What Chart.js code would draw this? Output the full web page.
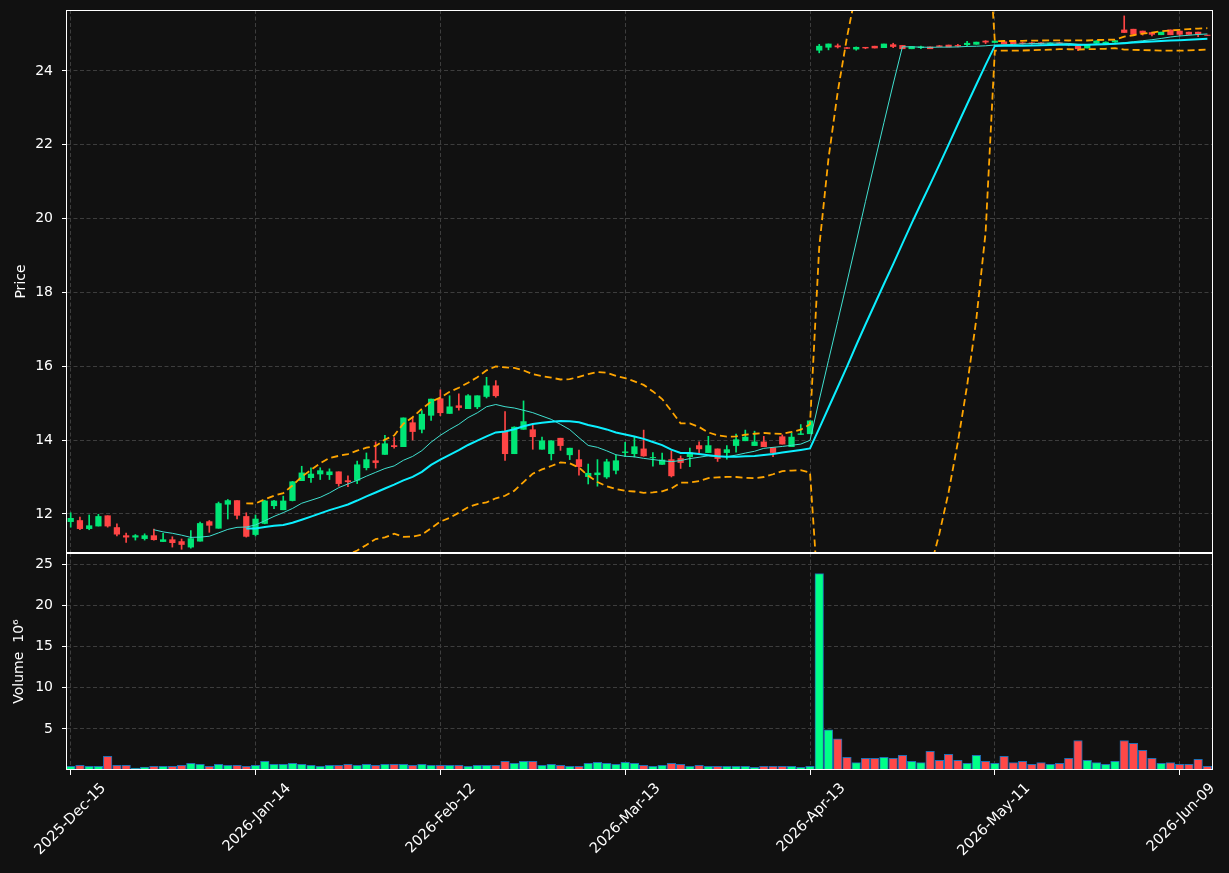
<!DOCTYPE html>
<html>
<head>
<meta charset="utf-8">
<script src="https://cdn.jsdelivr.net/npm/chart.js@4.4.1/dist/chart.umd.min.js"></script>
<style>
  html, body { margin: 0; padding: 0; background: #111111; }
  #wrap { position: relative; width: 1229px; height: 873px; }
  #priceCanvas { position: absolute; left: 0; top: 0; }
  #volCanvas { position: absolute; left: 0; top: 553px; }
</style>
</head>
<body>
<div id="wrap">
  <canvas id="priceCanvas" width="1229" height="553"></canvas>
  <canvas id="volCanvas" width="1229" height="320"></canvas>
</div>
<script>
// one entry per trading day, starting 2025-12-15 (index 0)
const opens = [
  11.79, 11.82, 11.60, 11.67, 11.95, 11.63, 11.41, 11.37, 11.33, 11.41,
  11.25, 11.30, 11.25, 11.10, 11.26, 11.79, 11.61, 12.26, 12.36, 11.93,
  11.44, 11.74, 12.22, 12.11, 12.36, 12.90, 12.98, 13.08, 13.06, 13.14,
  12.90, 12.91, 13.25, 13.44, 13.61, 13.85, 13.82, 14.47, 14.29, 14.67,
  15.12, 14.72, 14.93, 14.85, 14.90, 15.18, 15.47, 14.23, 13.63, 14.29,
  14.28, 13.75, 13.63, 14.05, 13.60, 13.47, 13.01, 13.06, 13.00, 13.18,
  13.66, 13.63, 13.76, 13.52, 13.34, 13.47, 13.50, 13.55, 13.85, 13.66,
  13.76, 13.66, 13.85, 13.98, 13.85, 13.95, 13.79, 14.09, 13.82, 14.15,
  14.17, 24.56, 24.64, 24.68, 24.63, 24.59, 24.64, 24.67, 24.63, 24.71,
  24.69, 24.60, 24.63, 24.65, 24.68, 24.70, 24.69, 24.71, 24.72, 24.81,
  24.77, 24.79, 24.79, 24.76, 24.76, 24.76, 24.72, 24.76, 24.73, 24.68,
  24.62, 24.75, 24.74, 24.78, 25.11, 25.13, 25.08, 25.04, 24.98, 25.11,
  25.08, 25.05, 25.05, 24.97
];
const highs = [
  12.03, 11.91, 11.97, 11.99, 11.95, 11.73, 11.48, 11.44, 11.46, 11.59,
  11.47, 11.38, 11.32, 11.55, 11.78, 11.82, 12.32, 12.39, 12.36, 12.03,
  11.97, 12.37, 12.37, 12.48, 12.88, 13.29, 13.25, 13.25, 13.22, 13.14,
  13.03, 13.43, 13.65, 13.95, 14.13, 14.07, 14.60, 14.59, 14.80, 15.11,
  15.36, 15.20, 15.25, 15.23, 15.20, 15.70, 15.61, 14.77, 14.36, 15.06,
  14.43, 14.08, 13.98, 14.05, 13.78, 13.73, 13.35, 13.47, 13.48, 13.59,
  13.94, 14.09, 14.27, 13.66, 13.65, 13.71, 13.57, 13.78, 13.95, 14.10,
  13.76, 13.85, 14.16, 14.27, 14.24, 14.10, 13.79, 14.14, 14.19, 14.42,
  14.52, 24.72, 24.73, 24.73, 24.64, 24.65, 24.64, 24.67, 24.73, 24.75,
  24.69, 24.66, 24.67, 24.65, 24.69, 24.70, 24.72, 24.80, 24.78, 24.82,
  24.81, 24.79, 24.79, 24.77, 24.77, 24.77, 24.76, 24.77, 24.74, 24.68,
  24.71, 24.82, 24.79, 24.83, 25.49, 25.13, 25.08, 25.04, 25.05, 25.11,
  25.08, 25.05, 25.05, 24.97
];
const lows = [
  11.64, 11.57, 11.57, 11.67, 11.64, 11.40, 11.23, 11.29, 11.29, 11.29,
  11.25, 11.10, 11.04, 11.07, 11.26, 11.50, 11.61, 11.86, 11.86, 11.37,
  11.40, 11.73, 12.14, 12.11, 12.35, 12.90, 12.85, 12.93, 12.93, 12.75,
  12.74, 12.82, 13.19, 13.24, 13.61, 13.78, 13.82, 14.00, 14.19, 14.53,
  14.66, 14.72, 14.81, 14.85, 14.85, 15.14, 15.16, 13.45, 13.63, 14.29,
  13.75, 13.75, 13.46, 13.72, 13.47, 13.05, 12.81, 12.75, 12.96, 13.08,
  13.55, 13.54, 13.56, 13.29, 13.34, 13.00, 13.23, 13.28, 13.65, 13.66,
  13.42, 13.48, 13.67, 13.98, 13.85, 13.82, 13.55, 13.89, 13.82, 14.15,
  14.17, 24.49, 24.57, 24.62, 24.60, 24.56, 24.60, 24.62, 24.63, 24.63,
  24.60, 24.60, 24.60, 24.60, 24.65, 24.65, 24.65, 24.68, 24.72, 24.74,
  24.77, 24.73, 24.73, 24.72, 24.72, 24.71, 24.71, 24.71, 24.68, 24.55,
  24.62, 24.74, 24.73, 24.77, 25.04, 24.99, 24.97, 24.95, 24.98, 24.98,
  24.95, 24.99, 24.93, 24.96
];
const closes = [
  11.88, 11.60, 11.68, 11.93, 11.67, 11.45, 11.37, 11.41, 11.41, 11.30,
  11.30, 11.22, 11.17, 11.33, 11.74, 11.69, 12.28, 12.36, 11.96, 11.39,
  11.86, 12.35, 12.35, 12.35, 12.87, 13.11, 13.08, 13.17, 13.14, 12.82,
  12.87, 13.33, 13.47, 13.39, 13.90, 13.82, 14.60, 14.23, 14.70, 15.11,
  14.74, 14.90, 14.88, 15.20, 15.20, 15.47, 15.20, 13.63, 14.35, 14.50,
  14.09, 13.98, 13.98, 13.85, 13.78, 13.28, 13.10, 13.11, 13.41, 13.44,
  13.68, 13.82, 13.57, 13.53, 13.46, 13.03, 13.39, 13.65, 13.76, 13.85,
  13.50, 13.74, 14.01, 14.08, 13.95, 13.82, 13.66, 13.89, 14.08, 14.17,
  14.52, 24.67, 24.73, 24.65, 24.61, 24.64, 24.62, 24.62, 24.73, 24.66,
  24.60, 24.66, 24.65, 24.60, 24.66, 24.65, 24.67, 24.75, 24.78, 24.78,
  24.81, 24.73, 24.73, 24.74, 24.74, 24.73, 24.75, 24.72, 24.70, 24.60,
  24.70, 24.81, 24.78, 24.82, 25.04, 24.99, 25.02, 24.99, 25.05, 24.98,
  24.99, 24.99, 25.00, 24.96
];
// volume in millions of shares
const volumes = [
  0.44, 0.56, 0.44, 0.44, 1.65, 0.56, 0.56, 0.24, 0.36, 0.44,
  0.44, 0.44, 0.56, 0.81, 0.69, 0.44, 0.69, 0.56, 0.56, 0.44,
  0.56, 1.05, 0.69, 0.69, 0.81, 0.69, 0.56, 0.44, 0.56, 0.56,
  0.69, 0.56, 0.69, 0.56, 0.69, 0.69, 0.69, 0.56, 0.69, 0.56,
  0.56, 0.56, 0.56, 0.44, 0.56, 0.56, 0.56, 1.05, 0.81, 1.05,
  1.05, 0.56, 0.69, 0.56, 0.44, 0.44, 0.81, 0.93, 0.81, 0.69,
  0.93, 0.81, 0.56, 0.44, 0.56, 0.81, 0.69, 0.44, 0.56, 0.44,
  0.44, 0.44, 0.44, 0.44, 0.32, 0.44, 0.44, 0.44, 0.44, 0.32,
  0.44, 23.89, 4.88, 3.79, 1.53, 0.89, 1.41, 1.41, 1.53, 1.41,
  1.78, 1.05, 0.89, 2.26, 1.17, 1.90, 1.17, 0.81, 1.78, 1.05,
  0.81, 1.65, 0.89, 1.05, 0.69, 0.89, 0.69, 0.81, 1.41, 3.59,
  1.17, 0.89, 0.69, 1.05, 3.59, 3.23, 2.38, 1.41, 0.81, 0.89,
  0.69, 0.69, 1.29, 0.44
];

const tickPositions = [0, 20, 40, 60, 80, 100, 120];
const tickLabels = ['2025-Dec-15', '2026-Jan-14', '2026-Feb-12', '2026-Mar-13', '2026-Apr-13', '2026-May-11', '2026-Jun-09'];
const priceTicks = [12, 14, 16, 18, 20, 22, 24];
const volumeTicks = [5, 10, 15, 20, 25];

// indicators derived from the closes (10/20 day averages, 20 day bands at 2 sd)
function sma(vals, n) {
  return vals.map((v, i) => {
    if (i < n - 1) return null;
    let s = 0;
    for (let k = i - n + 1; k <= i; k++) s += vals[k];
    return s / n;
  });
}
function band(vals, n, mult) {
  const mid = sma(vals, n);
  return vals.map((v, i) => {
    if (mid[i] === null) return null;
    let s = 0;
    for (let k = i - n + 1; k <= i; k++) s += (vals[k] - mid[i]) ** 2;
    return mid[i] + mult * Math.sqrt(s / (n - 1));
  });
}
const ma10 = sma(closes, 10);
const ma20 = sma(closes, 20);
const bbUpper = band(closes, 20, 2);
const bbLower = band(closes, 20, -2);

const UP = '#00e676';
const DOWN = '#ff4545';
const VOL_UP = '#00ff88';
const VOL_DOWN = '#ff4848';
const GRID = '#3d3d3d';

const isUp = closes.map((c, i) => c >= opens[i]);
const toXY = arr => arr.map((v, i) => ({ x: i, y: v }));

Chart.defaults.font.family = 'DejaVu Sans';
Chart.defaults.font.size = 14;
Chart.defaults.color = '#ffffff';
Chart.defaults.animation = false;

// white frame round each panel
const frame = {
  id: 'frame',
  afterDraw(chart) {
    const { ctx, chartArea: a } = chart;
    ctx.save();
    ctx.strokeStyle = '#ffffff';
    ctx.lineWidth = 1;
    ctx.strokeRect(Math.round(a.left) - 0.5, Math.round(a.top) + 0.5,
      Math.round(a.right - a.left) + 1, Math.round(a.bottom - a.top) - 1);
    ctx.restore();
  }
};

// no extra room for edge labels, so both panels line up exactly
const noPad = s => { s.paddingTop = 0; s.paddingBottom = 0; s.paddingLeft = 0; s.paddingRight = 0; };

const xBase = {
  type: 'linear',
  offset: false,
  min: -0.4,
  max: 123.5,
  afterBuildTicks: s => { s.ticks = tickPositions.map(v => ({ value: v })); },
  border: { display: false, dash: [4, 2.5] },
  grid: { offset: false, color: GRID, lineWidth: 1, tickColor: '#ffffff', tickLength: 5, tickBorderDash: [] }
};

new Chart(document.getElementById('priceCanvas'), {
  type: 'bar',
  data: {
    datasets: [
      { type: 'line', data: toXY(ma20), borderColor: '#0cefff', borderWidth: 2, pointRadius: 0, order: 0, clip: 0 },
      { type: 'line', data: toXY(ma10), borderColor: '#40e0d0', borderWidth: 1, pointRadius: 0, order: 0, clip: 0 },
      { type: 'line', data: toXY(bbUpper), borderColor: '#ffa500', borderWidth: 1.8, borderDash: [7, 4], pointRadius: 0, order: 0, clip: 0 },
      { type: 'line', data: toXY(bbLower), borderColor: '#ffa500', borderWidth: 1.8, borderDash: [7, 4], pointRadius: 0, order: 0, clip: 0 },
      {
        data: lows.map((l, i) => ({ x: i, y: [l, highs[i]] })),
        backgroundColor: isUp.map(u => u ? UP : DOWN),
        barThickness: 1, grouped: false, order: 2
      },
      {
        data: opens.map((o, i) => ({ x: i, y: [o, closes[i]] })),
        backgroundColor: isUp.map(u => u ? UP : DOWN),
        barThickness: 5.6, grouped: false, order: 1
      }
    ]
  },
  options: {
    responsive: false,
    layout: { padding: { left: 0, right: 17, top: 10, bottom: 0 } },
    plugins: { legend: { display: false }, tooltip: { enabled: false } },
    scales: {
      x: Object.assign({}, xBase, {
        ticks: { display: false },
        grid: Object.assign({}, xBase.grid, { drawTicks: false }),
        afterFit: s => { noPad(s); s.height = 0; }
      }),
      y: {
        min: 10.94,
        max: 25.65,
        afterBuildTicks: s => { s.ticks = priceTicks.map(v => ({ value: v })); },
        afterFit: s => { noPad(s); s.width = 67; },
        ticks: { padding: 9, color: '#ffffff' },
        border: { display: false, dash: [4, 2.5] },
        grid: { color: GRID, tickColor: '#ffffff', tickLength: 5, tickBorderDash: [] },
        title: { display: true, text: 'Price', color: '#ffffff', padding: { top: 13, bottom: 0 } }
      }
    }
  },
  plugins: [frame]
});

new Chart(document.getElementById('volCanvas'), {
  type: 'bar',
  data: {
    datasets: [{
      data: toXY(volumes),
      backgroundColor: isUp.map(u => u ? VOL_UP : VOL_DOWN),
      borderColor: '#1f6fb4',
      borderWidth: 1,
      barThickness: 8.6,
      grouped: false
    }]
  },
  options: {
    responsive: false,
    layout: { padding: { left: 0, right: 17, top: 0, bottom: 0 } },
    plugins: { legend: { display: false }, tooltip: { enabled: false } },
    scales: {
      x: Object.assign({}, xBase, {
        ticks: {
          autoSkip: false, minRotation: 45, maxRotation: 45, padding: 5, labelOffset: 33,
          color: '#ffffff', font: { size: 14.5 },
          callback: v => tickLabels[tickPositions.indexOf(v)]
        },
        afterFit: s => { noPad(s); s.height = 103; }
      }),
      y: {
        min: 0,
        max: 26.4,
        afterBuildTicks: s => { s.ticks = volumeTicks.map(v => ({ value: v })); },
        afterFit: s => { noPad(s); s.width = 67; },
        ticks: { padding: 9, color: '#ffffff' },
        border: { display: false, dash: [4, 2.5] },
        grid: { color: GRID, tickColor: '#ffffff', tickLength: 5, tickBorderDash: [] },
        title: { display: true, text: 'Volume  10⁶', color: '#ffffff', padding: { top: 11, bottom: 0 } }
      }
    }
  },
  plugins: [frame]
});
</script>
</body>
</html>
